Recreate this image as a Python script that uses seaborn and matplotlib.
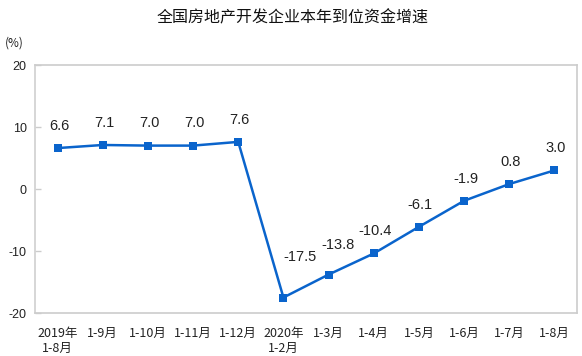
import matplotlib
matplotlib.use("Agg")
import matplotlib.pyplot as plt
import seaborn as sns
import pandas as pd

categories = ["2019年\n1-8月", "1-9月", "1-10月", "1-11月", "1-12月", "2020年\n1-2月",
              "1-3月", "1-4月", "1-5月", "1-6月", "1-7月", "1-8月"]
values = [6.6, 7.1, 7.0, 7.0, 7.6, -17.5, -13.8, -10.4, -6.1, -1.9, 0.8, 3.0]
yticks = [-20, -10, 0, 10, 20]

sns.set_theme(style="white")
plt.rcParams['font.family'] = ['Noto Sans CJK SC', 'DejaVu Sans']

df = pd.DataFrame({"x": range(len(categories)), "v": values})

fig = plt.figure(figsize=(5.82, 3.56), dpi=100)
ax = fig.add_axes([35/582, 1 - 313/356, (577-35)/582, (313-65)/356])

color = "#0a64cc"
sns.lineplot(data=df, x="x", y="v", ax=ax, color=color, linewidth=1.8,
             marker="s", markersize=6, markeredgewidth=0)

for i, v in enumerate(values):
    dx, dy = 1, 11
    if i == 5:
        dx, dy = 12, 24
    elif i == 6:
        dx, dy = 7, 16
    ax.annotate(f"{v:.1f}", (i, v), xytext=(dx, dy), textcoords="offset points",
                ha="center", va="bottom", fontsize=10.5, color="#222222",
                family=["Liberation Sans", "DejaVu Sans"])

ax.set_xlim(-0.5, len(categories) - 0.5)
ax.set_ylim(-20, 20)
ax.set_yticks(yticks)
ax.set_yticklabels([str(t) for t in yticks], fontsize=9, color="#222222",
                   family=["Liberation Sans", "DejaVu Sans"])
ax.set_xticks(range(len(categories)))
ax.set_xticklabels(categories, fontsize=9, color="#222222", linespacing=1.25)
ax.set_xticks([i - 0.5 for i in range(1, len(categories))], minor=True)
ax.tick_params(axis="x", which="major", length=0, pad=10)
ax.tick_params(axis="x", which="minor", length=4, direction="in", color="#cccccc", width=1)
ax.tick_params(axis="y", length=4, direction="in", color="#cccccc", width=1, pad=6, left=True)
ax.set_xlabel("")
ax.set_ylabel("")
for s in ax.spines.values():
    s.set_color("#cccccc")
    s.set_linewidth(1.2)
ax.spines["left"].set_color("#d0d0d0")

fig.text(293/582, 1 - 18/356, "全国房地产开发企业本年到位资金增速", ha="center", va="center",
         fontsize=11.5, color="#111111")
fig.text(14/582, 1 - 43/356, "(%)", ha="center", va="center", fontsize=8.5, color="#222222")

fig.savefig("out.png", dpi=100)
